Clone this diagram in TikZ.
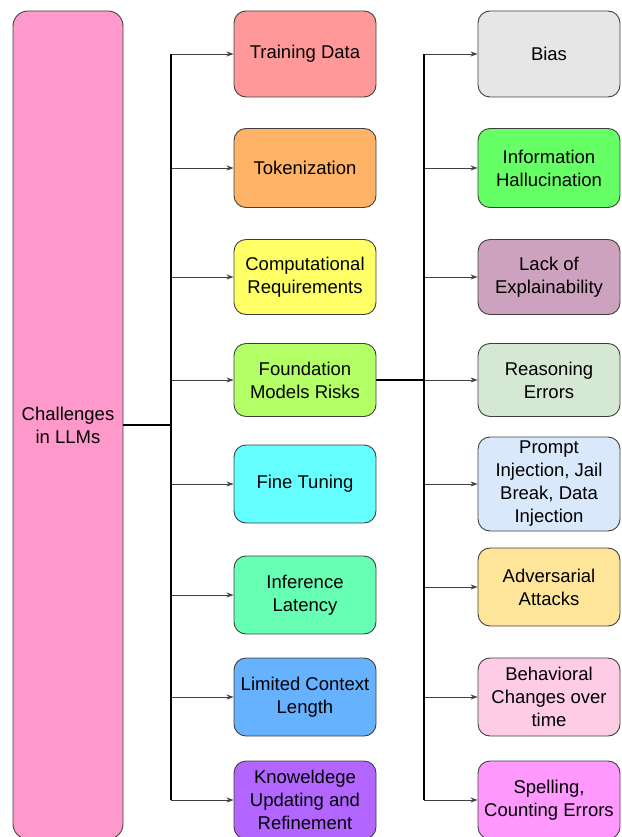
\documentclass[tikz,border=0pt]{standalone}
\usepackage{fontspec}
\setmainfont{Liberation Sans}
\usetikzlibrary{arrows.meta}
\begin{document}
\begin{tikzpicture}[x=1pt,y=-1pt,
  box/.style={draw=black!75, line width=0.9pt, rounded corners=12pt, align=center,
    inner sep=2pt, font=\fontsize{18.5}{23}\selectfont, text=black},
  mbox/.style={box, minimum width=142pt},
  rbox/.style={box, minimum width=142pt},
  conn/.style={draw=black!75, line width=0.8pt, -{Stealth[length=7pt,width=5pt]}},
  trunk/.style={draw=black, line width=1.5pt}]
\useasboundingbox (0,0) rectangle (621,837);
\definecolor{cL}{HTML}{FF99CC}
\definecolor{c1}{HTML}{FF9999}
\definecolor{c2}{HTML}{FFB366}
\definecolor{c3}{HTML}{FFFF66}
\definecolor{c4}{HTML}{B3FF66}
\definecolor{c5}{HTML}{66FFFF}
\definecolor{c6}{HTML}{66FFB3}
\definecolor{c7}{HTML}{66B2FF}
\definecolor{c8}{HTML}{B266FF}
\definecolor{d1}{HTML}{E6E6E6}
\definecolor{d2}{HTML}{66FF66}
\definecolor{d3}{HTML}{CDA2BE}
\definecolor{d4}{HTML}{D5E8D4}
\definecolor{d5}{HTML}{DAE8FC}
\definecolor{d6}{HTML}{FFE599}
\definecolor{d7}{HTML}{FFCCE6}
\definecolor{d8}{HTML}{FF99FF}

\node[box, fill=cL, rounded corners=15pt, minimum width=110pt, minimum height=828pt] (L) at (68,425) {Challenges\\in LLMs};

\node[mbox, fill=c1, minimum height=86pt] (m1) at (305,54) {Training Data};
\node[mbox, fill=c2, minimum height=79pt] (m2) at (305,168) {Tokenization};
\node[mbox, fill=c3, minimum height=75pt] (m3) at (305,277) {Computational\\Requirements};
\node[mbox, fill=c4, minimum height=73pt] (m4) at (305,380) {Foundation\\Models Risks};
\node[mbox, fill=c5, minimum height=78pt] (m5) at (305,484) {Fine Tuning};
\node[mbox, fill=c6, minimum height=78pt] (m6) at (305,595) {Inference\\Latency};
\node[mbox, fill=c7, minimum height=78pt] (m7) at (305,697) {Limited Context\\Length};
\node[mbox, fill=c8, minimum height=78pt] (m8) at (305,800) {Knoweldege\\Updating and\\Refinement};

\node[rbox, fill=d1, minimum height=86pt] (r1) at (549,54) {Bias};
\node[rbox, fill=d2, minimum height=79pt] (r2) at (549,168) {Information\\Hallucination};
\node[rbox, fill=d3, minimum height=75pt] (r3) at (549,277) {Lack of\\Explainability};
\node[rbox, fill=d4, minimum height=73pt] (r4) at (549,380) {Reasoning\\Errors};
\node[rbox, fill=d5, minimum height=94pt] (r5) at (549,484) {Prompt\\Injection, Jail\\Break, Data\\Injection};
\node[rbox, fill=d6, minimum height=78pt] (r6) at (549,587) {Adversarial\\Attacks};
\node[rbox, fill=d7, minimum height=78pt] (r7) at (549,697) {Behavioral\\Changes over\\time};
\node[rbox, fill=d8, minimum height=78pt] (r8) at (549,800) {Spelling,\\Counting Errors};

\coordinate (tA) at (171,425);
\coordinate (tB) at (424,380);

\foreach \i in {1,...,8} {
  \draw[conn] (tA |- m\i.west) -- (m\i.west);
  \draw[conn] (tB |- r\i.west) -- (r\i.west);
}
\draw[trunk] (tA |- m1.west) -- (tA |- m8.west);
\draw[trunk] (L.east |- tA) -- (tA);
\draw[trunk] (tB |- r1.west) -- (tB |- r8.west);
\draw[trunk] (m4.east) -- (tB);
\end{tikzpicture}
\end{document}
